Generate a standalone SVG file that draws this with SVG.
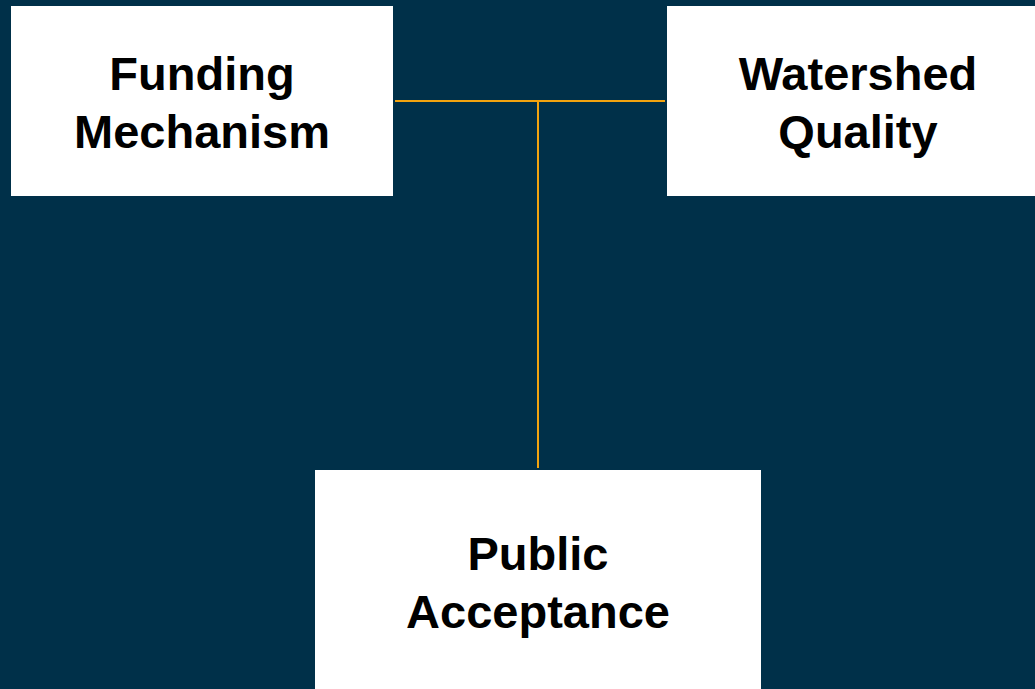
<svg xmlns="http://www.w3.org/2000/svg" width="1035" height="689" viewBox="0 0 1035 689">
<style>
.box{fill:#ffffff}
.lbl{font-family:"Liberation Sans",Arial,sans-serif;font-weight:bold;font-size:47px;fill:#000000;text-anchor:middle}
.conn{stroke:#F2A30F;stroke-width:2;fill:none}
</style>
<rect width="1035" height="689" fill="#003049"/>
<g id="connectors">
<line class="conn" x1="395" y1="101" x2="665" y2="101"/>
<line class="conn" x1="538" y1="101" x2="538" y2="468"/>
</g>
<g id="funding">
<rect class="box" x="11" y="6" width="382" height="190"/>
<text class="lbl" x="202" y="90">Funding</text>
<text class="lbl" x="202" y="148">Mechanism</text>
</g>
<g id="watershed">
<rect class="box" x="667" y="6" width="382" height="190"/>
<text class="lbl" x="858" y="90">Watershed</text>
<text class="lbl" x="858" y="148">Quality</text>
</g>
<g id="public">
<rect class="box" x="315" y="470" width="446" height="230"/>
<text class="lbl" x="538" y="570">Public</text>
<text class="lbl" x="538" y="628">Acceptance</text>
</g>
</svg>
